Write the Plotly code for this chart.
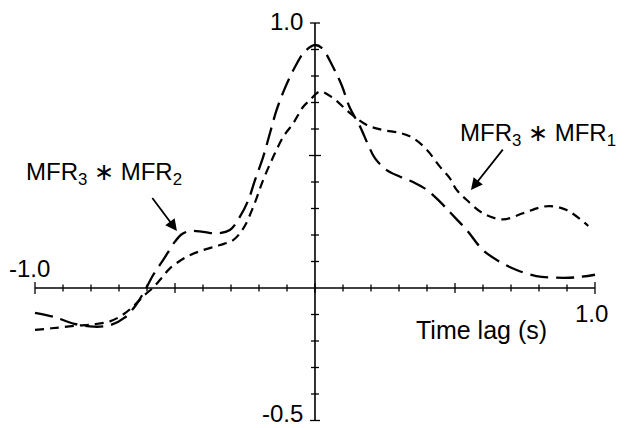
import plotly.graph_objects as go

# ---- data ----
lag_mfr32 = [-1.0, -0.93, -0.86, -0.79, -0.73, -0.68, -0.64, -0.607, -0.578, -0.542, -0.50, -0.476,
             -0.446, -0.40, -0.351, -0.304, -0.268, -0.238, -0.214, -0.185, -0.161, -0.137, -0.107,
             -0.071, -0.036, 0.0, 0.025, 0.064, 0.095, 0.125, 0.161, 0.19, 0.214, 0.256, 0.304, 0.35,
             0.40, 0.446, 0.482, 0.506, 0.542, 0.60, 0.66, 0.72, 0.79, 0.86, 0.93, 1.0]
corr_mfr32 = [-0.094, -0.11, -0.135, -0.146, -0.14, -0.112, -0.065, -0.008, 0.049, 0.106, 0.175, 0.203,
              0.215, 0.212, 0.206, 0.219, 0.269, 0.332, 0.408, 0.495, 0.584, 0.672, 0.755,
              0.835, 0.893, 0.917, 0.905, 0.835, 0.766, 0.679, 0.609, 0.54, 0.49, 0.445, 0.42, 0.40,
              0.37, 0.326, 0.286, 0.259, 0.219, 0.143, 0.099, 0.068, 0.045, 0.039, 0.04, 0.05]

lag_mfr31 = [-1.0, -0.94, -0.86, -0.79, -0.73, -0.685, -0.645, -0.61, -0.58, -0.55, -0.518, -0.458,
             -0.40, -0.339, -0.292, -0.256, -0.22, -0.185, -0.149, -0.113, -0.078, -0.042, -0.018,
             0.018, 0.064, 0.125, 0.185, 0.243, 0.304, 0.35, 0.40, 0.446, 0.482, 0.506, 0.542, 0.60,
             0.671, 0.743, 0.80, 0.839, 0.899, 0.976]
corr_mfr31 = [-0.158, -0.152, -0.143, -0.137, -0.125, -0.10, -0.065, -0.028, 0.0, 0.035, 0.074, 0.118,
              0.143, 0.162, 0.181, 0.225, 0.307, 0.408, 0.495, 0.571, 0.621, 0.684, 0.709,
              0.741, 0.717, 0.66, 0.615, 0.596, 0.585, 0.566, 0.521, 0.458, 0.414, 0.37, 0.332, 0.282,
              0.259, 0.282, 0.303, 0.309, 0.294, 0.234]

x_minor_ticks = [round(-1.0 + 0.1 * i, 1) for i in range(21)]
x_major_ticks = [-1.0, -0.5, 0.0, 0.5, 1.0]
y_minor_ticks = [round(-0.5 + 0.1 * i, 1) for i in range(16)]
y_major_ticks = [-0.5, 0.5, 1.0]

label_mfr32 = "MFR<sub>3</sub> \u2217 MFR<sub>2</sub>"
label_mfr31 = "MFR<sub>3</sub> \u2217 MFR<sub>1</sub>"

FONT = "Arial, Liberation Sans, Helvetica, sans-serif"

fig = go.Figure()
fig.add_trace(go.Scatter(x=lag_mfr32, y=corr_mfr32, mode="lines", line_shape="spline",
                         line=dict(color="black", width=2.3, dash="18px,8px"), showlegend=False,
                         name="MFR3*MFR2"))
fig.add_trace(go.Scatter(x=lag_mfr31, y=corr_mfr31, mode="lines", line_shape="spline",
                         line=dict(color="black", width=2.2, dash="9px,6px"), showlegend=False,
                         name="MFR3*MFR1"))

shapes = []
# axis lines
shapes.append(dict(type="line", xref="x", yref="y", x0=-1.0, x1=1.0, y0=0, y1=0,
                   line=dict(color="black", width=1.6)))
shapes.append(dict(type="line", xref="x", yref="y", x0=0, x1=0, y0=-0.5, y1=1.0,
                   line=dict(color="black", width=1.6)))
# x ticks (crossing)
for t in x_minor_ticks:
    h = 6 if t in (-1.0, 1.0) else (5 if t in x_major_ticks else 3.5)
    shapes.append(dict(type="line", xref="x", yref="y", ysizemode="pixel", yanchor=0,
                       x0=t, x1=t, y0=-h, y1=h, line=dict(color="black", width=1.3)))
# y ticks (crossing)
for t in y_minor_ticks:
    if t == 0:
        continue
    w = 6 if t == 0.5 else (5 if t in y_major_ticks else 4)
    shapes.append(dict(type="line", xref="x", yref="y", xsizemode="pixel", xanchor=0,
                       y0=t, y1=t, x0=-w, x1=w, line=dict(color="black", width=1.3)))

ann = []
def txt(x, y, s, xa, ya, size=24):
    ann.append(dict(x=x, y=y, xref="x", yref="y", text=s, showarrow=False, xanchor=xa, yanchor=ya,
                    font=dict(family=FONT, size=size, color="black")))

txt(-0.035, 1.005, "1.0", "right", "middle")
txt(-0.035, -0.475, "-0.5", "right", "middle")
txt(-0.94, 0.072, "-1.0", "right", "middle")
txt(1.055, -0.098, "1.0", "right", "middle")
txt(0.355, -0.16, "Time lag (s)", "left", "middle", 25)
txt(-1.04, 0.432, label_mfr32, "left", "middle", 24)
txt(0.51, 0.58, label_mfr31, "left", "middle", 24)

# arrows
ann.append(dict(x=-0.493, y=0.215, ax=-0.585, ay=0.345, xref="x", yref="y", axref="x", ayref="y",
                text="", showarrow=True, arrowhead=2, arrowsize=1.3, arrowwidth=1.8, arrowcolor="black"))
ann.append(dict(x=0.557, y=0.37, ax=0.675, ay=0.528, xref="x", yref="y", axref="x", ayref="y",
                text="", showarrow=True, arrowhead=2, arrowsize=1.3, arrowwidth=1.8, arrowcolor="black"))

fig.update_layout(
    width=631, height=428, autosize=False,
    margin=dict(l=0, r=0, t=0, b=0, pad=0),
    paper_bgcolor="white", plot_bgcolor="white",
    xaxis=dict(range=[-1.0964, 1.1572], visible=False, fixedrange=True),
    yaxis=dict(range=[-0.5585, 1.0566], visible=False, fixedrange=True),
    shapes=shapes, annotations=ann,
)

fig.write_html("out.html")
